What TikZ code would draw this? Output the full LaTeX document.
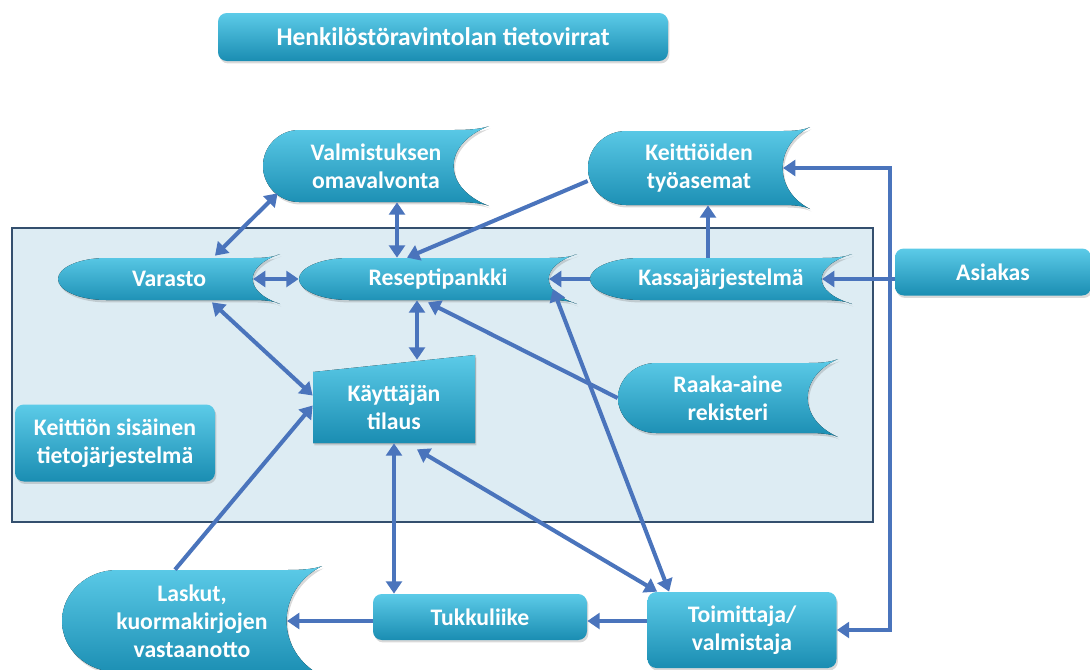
\documentclass[tikz,border=0pt]{standalone}
\usepackage{fontspec}
\setmainfont{Carlito}
\usetikzlibrary{arrows.meta, positioning, calc, shadows}
\definecolor{boxtop}{HTML}{5CCBE8}
\definecolor{boxbot}{HTML}{1A8DB2}
\definecolor{arrowblue}{HTML}{4A74BC}
\definecolor{sysfill}{HTML}{DDECF3}
\definecolor{sysline}{HTML}{344F6E}
\newcommand{\storeicon}[8]{%
  \begin{scope}[shift={(#2,#3)}]
    \fill[tile] (-#4+#6,-#5) -- (#4-#7,-#5)
      .. controls (#4-0.4*#7,-#5) and (#4-0.15*#7,-#5-2) .. (#4,-#5-4)
      .. controls (#4-1.35*#7,-0.6*#5) and (#4-1.35*#7,0.6*#5) .. (#4,#5+4)
      .. controls (#4-0.15*#7,#5+2) and (#4-0.4*#7,#5) .. (#4-#7,#5)
      -- (-#4+#6,#5)
      .. controls (-#4+0.45*#6,#5) and (-#4,0.55*#5) .. (-#4,0)
      .. controls (-#4,-0.55*#5) and (-#4+0.45*#6,-#5) .. cycle;
    \coordinate (#1-r) at (#4-#7,0);
  \end{scope}
  \node[lbl, wh={2*#4}{2*#5}] (#1) at (#2,#3) {#8};%
}

\begin{document}
\begin{tikzpicture}[x=0.02cm, y=-0.02cm]
    \tikzset{
      tile/.style={top color=boxtop, bottom color=boxbot,
        drop shadow={shadow xshift=0.8pt, shadow yshift=-1.4pt, opacity=0.3}},
      lbl/.style={text=white, font=\bfseries\fontsize{13.5}{16}\selectfont, align=center, inner sep=0pt},
      wh/.style 2 args={minimum width=#1*0.02cm, minimum height=#2*0.02cm},
      tilebox/.style={tile, lbl, rounded corners=5pt},
      arr/.style={-{Triangle[length=7pt,width=9pt]}, line width=2.3pt, draw=arrowblue},
      biarr/.style={arr, {Triangle[length=7pt,width=9pt]}-{Triangle[length=7pt,width=9pt]}}
    }
    \useasboundingbox (0,0) rectangle (1090,670);
    \clip (0,0) rectangle (1090,670);

    \node[tilebox, wh={450}{48}, font=\bfseries\fontsize{14.5}{17}\selectfont] (title) at (443,37) {Henkilöstöravintolan tietovirrat};

    \draw[sysline, fill=sysfill, line width=1.3pt] (12,228) rectangle (873,522);

    \storeicon{valm}{376}{166}{113}{36}{36}{35}{Valmistuksen\\omavalvonta}
    \storeicon{keitt}{699}{168}{111}{37}{38}{27}{Keittiöiden\\työasemat}
    \storeicon{varasto}{169}{279}{111}{21}{48}{27}{Varasto}
    \storeicon{resept}{438}{279}{139}{21}{50}{28}{Reseptipankki}
    \storeicon{kassa}{721}{279}{131}{21}{50}{30}{Kassajärjestelmä}
    \storeicon{raaka}{728}{398}{110}{35}{38}{30}{Raaka-aine\\rekisteri}
    \storeicon{laskut}{192}{621}{130}{51}{55}{35}{Laskut,\\kuormakirjojen\\vastaanotto}

    \fill[tile] (313,372) -- (475,355) -- (475,443) -- (313,443) -- cycle;
    \node[lbl, wh={162}{71}] (kayt) at (394,407.5) {Käyttäjän\\tilaus};

    \node[tilebox, wh={200}{77}] (sisainen) at (115,443) {Keittiön sisäinen\\tietojärjestelmä};
    \node[tilebox, wh={196}{47}] (asiakas) at (993,272) {Asiakas};
    \node[tilebox, wh={214}{46}] (tukku) at (480,617) {Tukkuliike};
    \node[tilebox, wh={189}{76}] (toim) at (742,630) {Toimittaja/\\valmistaja};
    \coordinate (bus) at (890,279);

    \draw[biarr] ($(valm.south west)+(15,-9)$) -- ($(varasto.north)+(46,-2)$);
    \draw[biarr] ($(valm.south)+(21,0)$) -- ($(resept.north)+(-41,0)$);
    \draw[arr] ($(keitt.west)+(0,13)$) -- ($(resept.north)+(-31,0)$);
    \draw[biarr] (varasto-r) -- (resept.west);
    \draw[arr] (kassa.west) -- (resept-r);
    \draw[arr] ($(kassa.north)+(-13,0)$) -- ($(keitt.south)+(9,0)$);
    \draw[arr] (asiakas.west |- kassa-r) -- (kassa-r);
    \draw[arr] (bus) |- (keitt-r);
    \draw[arr] (bus) |- (toim.east);
    \draw[biarr] ($(resept.south)+(-21,0)$) -- ($(kayt.north)+(23,-12)$);
    \draw[arr] (raaka.west) -- ($(resept.south)+(-10,2)$);
    \draw[biarr] ($(varasto.south)+(43,2)$) -- ($(kayt.west)+(0,-12)$);
    \draw[arr] ($(laskut.north)+(-17,0)$) -- ($(kayt.west)+(0,-2)$);
    \draw[biarr] (kayt.south) -- (kayt.south |- tukku.north);
    \draw[biarr] ($(kayt.south)+(23,6)$) -- ($(toim.north west)+(10,0)$);
    \draw[biarr] ($(resept-r)+(4,10)$) -- ($(toim.north west)+(22,0)$);
    \draw[arr] (toim.west |- laskut-r) -- (tukku.east |- laskut-r);
    \draw[arr] (tukku.west |- laskut-r) -- (laskut-r);
\end{tikzpicture}
\end{document}
